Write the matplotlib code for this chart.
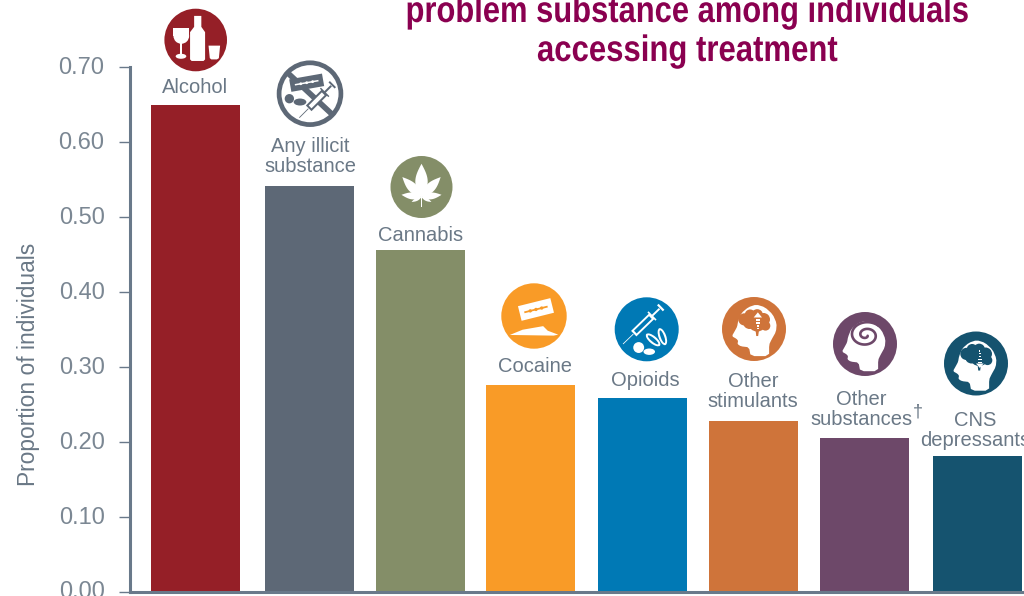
import numpy as np
import matplotlib
matplotlib.use('Agg')
import matplotlib.pyplot as plt
from matplotlib.patches import Circle, Ellipse, Polygon, Rectangle
from matplotlib.patheffects import AbstractPathEffect
from matplotlib.transforms import Affine2D

categories = ['Alcohol', 'Any illicit\nsubstance', 'Cannabis', 'Cocaine', 'Opioids',
              'Other\nstimulants', 'Other\nsubstances', 'CNS\ndepressants']
proportions = [0.65, 0.541, 0.456, 0.276, 0.258, 0.228, 0.205, 0.181]
bar_colors = ['#951f27', '#5d6876', '#848e68', '#f99b27', '#0079b5', '#cf743a', '#6d4869', '#15536f']
y_ticks = [0.0, 0.1, 0.2, 0.3, 0.4, 0.5, 0.6, 0.7]
title_lines = ['problem substance among individuals', 'accessing treatment']

TEXT = '#6a7886'
TICK = '#7b8793'
AXIS = '#69798a'
FONT = ['Liberation Sans', 'DejaVu Sans']

W, H = 1024, 596
fig = plt.figure(figsize=(W / 100, H / 100), dpi=100)

# main axes: x runs in figure pixels, y in proportion units
ax = fig.add_axes([129.5 / W, 4.5 / H, 1 - 129.5 / W, 591.5 / H])
ax.set_xlim(129.5, W)
ax.set_ylim(0, 591.5 / 749)
centers = [195.5, 309.5, 420.5, 530.5, 642.5, 753.5, 864.5, 977.5]
ax.bar(centers, proportions, width=89, color=bar_colors, linewidth=0)

for side in ['top', 'right']:
    ax.spines[side].set_visible(False)
ax.spines['left'].set_bounds(0, 0.7)
ax.spines['left'].set_color(AXIS)
ax.spines['left'].set_linewidth(2.2)
ax.spines['bottom'].set_color(AXIS)
ax.spines['bottom'].set_linewidth(2.2)
ax.set_xticks([])
ax.set_yticks(y_ticks)
ax.set_yticklabels(['%.2f' % t for t in y_ticks], family=FONT, fontsize=17, color=TICK)
ax.tick_params(axis='y', length=8, width=1, color=AXIS, pad=10)
for lab in ax.get_yticklabels():
    lab.set_transform(lab.get_transform() + Affine2D().translate(0, 1.5))
ax.set_ylabel('Proportion of individuals', family=FONT, fontsize=16.4, color=TEXT)
ax.yaxis.set_label_coords(-89 / (W - 129.5), 0.384, transform=ax.transAxes)

# overlay in pixel coordinates for the pictograms and labels
ov = fig.add_axes([0, 0, 1, 1])
ov.set_xlim(0, W)
ov.set_ylim(H, 0)
ov.axis('off')
ov.patch.set_alpha(0)


class Squeeze(AbstractPathEffect):
    # narrows a text line horizontally around a display x position
    def __init__(self, x, sx):
        super().__init__()
        self.x, self.sx = x, sx

    def draw_path(self, renderer, gc, tpath, affine, rgbFace=None):
        tr = affine + Affine2D().translate(-self.x, 0).scale(self.sx, 1).translate(self.x, 0)
        renderer.draw_path(gc, tpath, tr, rgbFace)


def place(pts, c, r):
    return [(c[0] + x * r, c[1] + y * r) for x, y in pts]


def poly(pts, c, r, color='white', z=3):
    ov.add_patch(Polygon(place(pts, c, r), closed=True, fc=color, ec='none', zorder=z))


def disc(x, y, rad, c, r, color='white', z=3):
    ov.add_patch(Circle((c[0] + x * r, c[1] + y * r), rad * r, fc=color, ec='none', zorder=z))


def oval(x, y, w, h, angle, c, r, color='white', z=3):
    ov.add_patch(Ellipse((c[0] + x * r, c[1] + y * r), w * r, h * r, angle=angle,
                         fc=color, ec='none', zorder=z))


def bar_rot(x, y, w, h, angle, c, r, color='white', z=3):
    # rectangle centred on (x, y), turned by angle degrees
    px, py = c[0] + x * r, c[1] + y * r
    tr = Affine2D().rotate_deg_around(px, py, angle) + ov.transData
    ov.add_patch(Rectangle((px - w * r / 2, py - h * r / 2), w * r, h * r, fc=color,
                           ec='none', zorder=z, transform=tr))


def blade(x, y, w, h, angle, c, r, back, fg='white', z=3):
    bar_rot(x, y, w, h, angle, c, r, fg, z)
    a = np.deg2rad(angle)
    bar_rot(x, y, w * 0.72, h * 0.12, angle, c, r, back, z + 1)
    for s in [-0.18, 0.0, 0.18]:
        disc(x + s * np.cos(a), y + s * np.sin(a), h * 0.11, c, r, back, z + 1)


def syringe(x0, y0, x1, y1, c, r, fg='white', bg=None, z=3):
    # needle tip at (x0, y0), plunger end at (x1, y1)
    d = np.array([x1 - x0, y1 - y0])
    ang = np.degrees(np.arctan2(d[1], d[0]))
    pt = lambda t: (x0 + d[0] * t, y0 + d[1] * t)
    L = np.hypot(*d)
    bar_rot(*pt(0.13), L * 0.26, 0.025, ang, c, r, fg, z)
    bar_rot(*pt(0.5), L * 0.46, 0.24, ang, c, r, fg, z)
    if bg:
        bar_rot(*pt(0.5), L * 0.38, 0.12, ang, c, r, bg, z + 1)
    bar_rot(*pt(0.82), L * 0.2, 0.06, ang, c, r, fg, z)
    bar_rot(*pt(0.95), L * 0.04, 0.26, ang, c, r, fg, z)
    bar_rot(*pt(0.73), L * 0.03, 0.36, ang, c, r, fg, z)


def chaikin(pts, rounds=2):
    # corner cutting for a closed outline
    for _ in range(rounds):
        out = []
        for i in range(len(pts)):
            p, q = pts[i], pts[(i + 1) % len(pts)]
            out.append((0.8 * p[0] + 0.2 * q[0], 0.8 * p[1] + 0.2 * q[1]))
            out.append((0.2 * p[0] + 0.8 * q[0], 0.2 * p[1] + 0.8 * q[1]))
        pts = out
    return pts


HEAD = chaikin([(-0.72, 0.24), (-0.63, 0.08), (-0.56, -0.05), (-0.53, -0.22), (-0.43, -0.47),
                (-0.22, -0.65), (0.02, -0.73), (0.28, -0.65), (0.52, -0.43), (0.64, -0.15),
                (0.62, 0.10), (0.48, 0.35), (0.41, 0.50), (0.41, 0.85), (-0.15, 0.85),
                (-0.20, 0.58), (-0.45, 0.55), (-0.55, 0.48), (-0.53, 0.38), (-0.58, 0.32)], 1)


def brain(c, r, color):
    for x, y, rad in [(-0.30, -0.30, 0.19), (-0.12, -0.44, 0.17), (0.10, -0.44, 0.18), (0.30, -0.30, 0.20),
                      (0.36, -0.10, 0.15), (0.10, -0.20, 0.28), (-0.14, -0.20, 0.20)]:
        disc(x, y, rad, c, r, color, 4)
    poly([(0.04, -0.05), (0.17, -0.05), (0.13, 0.22), (0.07, 0.22)], c, r, color, 4)


def base(c, r, color):
    ov.add_patch(Circle(c, r, fc=color, ec='none', zorder=2))


def rung(x, y, w, c, r):
    poly([(x - w / 2, y), (x + w / 2, y), (x + w / 2, y + 0.045), (x - w / 2, y + 0.045)], c, r, 'white', 5)


# alcohol: wine glass, bottle, tumbler
c, r = (195.7, 40), 31.3
base(c, r, bar_colors[0])
poly([(-0.05, -0.77), (0.18, -0.77), (0.18, -0.42), (0.30, -0.25), (0.30, 0.62), (0.25, 0.67),
      (-0.13, 0.67), (-0.18, 0.62), (-0.18, -0.25), (-0.05, -0.42)], c, r)
oval(-0.46, -0.13, 0.50, 0.50, 0, c, r)
poly([(-0.71, -0.37), (-0.21, -0.37), (-0.21, -0.13), (-0.71, -0.13)], c, r)
poly([(-0.49, 0.05), (-0.44, 0.05), (-0.44, 0.5), (-0.49, 0.5)], c, r)
oval(-0.47, 0.52, 0.34, 0.16, 0, c, r)
poly([(0.41, 0.18), (0.78, 0.18), (0.74, 0.58), (0.68, 0.62), (0.50, 0.62), (0.45, 0.58)], c, r)

# any illicit substance: prohibition ring over blade, syringe and pills
c, r = (310, 93.7), 33.3
col = bar_colors[1]
ov.add_patch(Circle(c, r - 2.4, fc='none', ec=col, lw=3.4, zorder=8))
bar_rot(0.0, 0.0, 1.9, 0.17, 43, c, r, col, 3)
syringe(-0.32, 0.72, 0.72, -0.32, c, r, col, 'white', 4)
blade(-0.10, -0.33, 1.0, 0.38, -10, c, r, 'white', col, 6)
disc(-0.62, 0.15, 0.14, c, r, col)
oval(-0.30, 0.25, 0.38, 0.21, 0, c, r, col)

# cannabis leaf from lens shaped leaflets
c, r = (421.5, 187), 31
base(c, r, bar_colors[2])
for ang, ln, wd in [(90, 1.07, 0.20), (46, 0.89, 0.15), (134, 0.89, 0.15), (6, 0.65, 0.11),
                    (174, 0.65, 0.11), (-27, 0.36, 0.05), (207, 0.36, 0.05)]:
    a = np.deg2rad(ang)
    t = np.linspace(0, 1, 24)
    along = t * ln
    half = wd * np.sin(np.pi * t ** 0.9)
    ux, uy = np.cos(a), -np.sin(a)
    top = [(ux * s - uy * h, 0.32 + uy * s + ux * h) for s, h in zip(along, half)]
    bot = [(ux * s + uy * h, 0.32 + uy * s - ux * h) for s, h in zip(along, half)]
    poly(top + bot[::-1], c, r)
poly([(-0.025, 0.3), (0.025, 0.3), (0.025, 0.66), (-0.025, 0.66)], c, r)

# cocaine: razor blade above a line of powder
c, r = (534, 316), 32.7
base(c, r, bar_colors[3])
blade(0.06, -0.20, 1.02, 0.46, -14, c, r, bar_colors[3])
poly([(-0.74, 0.58), (-0.35, 0.42), (0.28, 0.31), (0.42, 0.45), (0.74, 0.57), (0.60, 0.60)], c, r)

# opioids: syringe and pills
c, r = (646.7, 329.3), 32
col = bar_colors[4]
base(c, r, col)
syringe(-0.74, 0.46, 0.50, -0.74, c, r, 'white', col)
for x, y, ang in [(0.20, 0.33, 40), (0.49, 0.23, 70)]:
    oval(x, y, 0.56, 0.24, ang, c, r)
    oval(x, y, 0.42, 0.11, ang, c, r, col, 4)
disc(-0.25, 0.57, 0.17, c, r)
oval(0.08, 0.70, 0.36, 0.20, 0, c, r)

# heads for the last three groups
c, r = (754, 329), 32
col = bar_colors[5]
base(c, r, col)
poly([(x * 1.03 + 0.05, y * 1.02 - 0.02) for x, y in HEAD], c, r)
brain(c, r, col)
poly([(0.12, -0.52), (0.25, -0.36), (-0.01, -0.36)], c, r, 'white', 5)
for y, w in [(-0.30, 0.14), (-0.21, 0.11), (-0.12, 0.08), (-0.03, 0.05)]:
    rung(0.12, y, w, c, r)

c, r = (865, 344), 32
col = bar_colors[6]
base(c, r, col)
poly(HEAD, c, r)
t = np.linspace(0, 3.6 * np.pi, 120)
rad = 0.06 + 0.042 * t
ov.plot(c[0] + r * (0.03 + rad * np.cos(t + 0.5)), c[1] + r * (-0.28 + 0.8 * rad * np.sin(t + 0.5)),
        color=col, lw=1.9, zorder=4, solid_capstyle='round')

c, r = (976, 363.5), 32
col = bar_colors[7]
base(c, r, col)
poly(HEAD, c, r)
brain(c, r, col)
for y, w in [(-0.42, 0.04), (-0.33, 0.06), (-0.24, 0.08), (-0.15, 0.11), (-0.06, 0.14)]:
    rung(0.12, y, w, c, r)
poly([(0.0, 0.0), (0.24, 0.0), (0.12, 0.14)], c, r, 'white', 5)

# category labels sit over each bar
label_x = [195.5, 310, 421, 535, 645, 753, 861, 975]
label_y = [93, 172, 241, 372, 386, 407, 425, 446]
for name, x, y in zip(categories, label_x, label_y):
    lines = name.split('\n')
    for i, line in enumerate(lines):
        ov.text(x, y - 20 * (len(lines) - 1 - i), line, ha='center', va='baseline', family=FONT,
                fontsize=14.5, color=TEXT, zorder=9)
ov.text(918, 416, '†', ha='center', va='baseline', family=FONT, fontsize=13, color=TEXT)

# heading, its top runs off the figure
for line, y, sx in zip(title_lines, [22, 61], [0.84, 0.845]):
    ov.text(687, y, line, ha='center', va='baseline', fontsize=26.5, fontweight='bold',
            family=['Liberation Sans'], color='#8a0050', path_effects=[Squeeze(687, sx)])

fig.savefig('out.png', dpi=100)
